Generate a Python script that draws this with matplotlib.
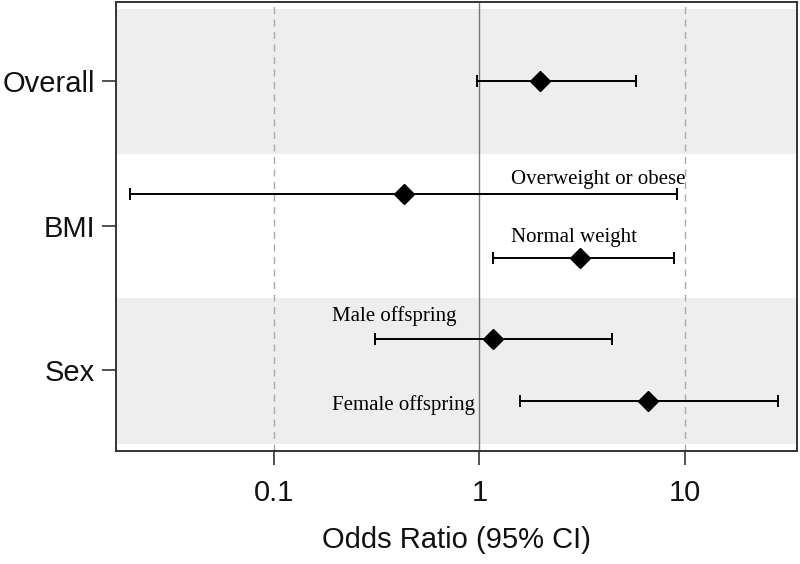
import numpy as np
import matplotlib.pyplot as plt

# estimates
labels = ["Overall", "Overweight or obese", "Normal weight", "Male offspring", "Female offspring"]
odds = [1.98, 0.43, 3.1, 1.17, 6.6]
lower = [0.97, 0.020, 1.17, 0.31, 1.58]
upper = [5.75, 9.1, 8.8, 4.4, 28.5]

groups = ["Overall", "BMI", "Sex"]
xticks = [0.1, 1, 10]
xticklabels = ["0.1", "1", "10"]

# layout (vertical positions, top = 0)
row_y = [80, 193, 258, 339, 401]
group_y = [80, 226, 370]
bands = [(8, 153, "#eeeeee"), (153, 298, "white"), (298, 444, "#eeeeee")]
text_x = [None, 1.43, 1.43, 0.192, 0.192]
text_dy = [0, -14, -21, -23, 4]

plt.rcParams["font.family"] = ["Liberation Sans", "DejaVu Sans"]

fig = plt.figure(figsize=(8, 5.64), dpi=100)
ax = fig.add_axes([0.145, 0.2004, 0.851, 0.7961])

for y0, y1, c in bands:
    ax.axhspan(y0, y1, color=c, zorder=0, lw=0)

ax.axvline(0.1, color="#aaaaaa", ls=(0, (5, 4)), lw=1, zorder=1)
ax.axvline(10, color="#aaaaaa", ls=(0, (5, 4)), lw=1, zorder=1)
ax.axvline(1, color="#777777", lw=1, zorder=1)

odds = np.array(odds)
err = np.array([odds - np.array(lower), np.array(upper) - odds])
ax.errorbar(odds, row_y, xerr=err, fmt="none", ecolor="black", elinewidth=1.4,
            capsize=4.5, capthick=1.4, zorder=2)
ax.plot(odds, row_y, "D", color="black", ms=10.5, zorder=3)

for i, lab in enumerate(labels):
    if text_x[i] is None:
        continue
    ax.text(text_x[i], row_y[i] + text_dy[i], lab, family="Liberation Serif",
            fontsize=15, ha="left", va="center", zorder=4)

ax.set_xscale("log")
ax.set_xlim(0.0171, 35)
ax.set_ylim(451, 1)
ax.set_xticks(xticks)
ax.set_xticklabels(xticklabels)
ax.xaxis.set_minor_locator(plt.NullLocator())
ax.set_yticks(group_y)
ax.set_yticklabels(groups)
ax.tick_params(axis="both", labelsize=21, length=10, width=1.2, color="#333333", labelcolor="#111111")
ax.tick_params(axis="x", pad=10)
ax.tick_params(axis="y", pad=5)
ax.set_xlabel("Odds Ratio (95% CI)", fontsize=21, labelpad=14, color="#111111")
for s in ax.spines.values():
    s.set_linewidth(1.4)
    s.set_color("#333333")

fig.savefig("out.png", dpi=100)
